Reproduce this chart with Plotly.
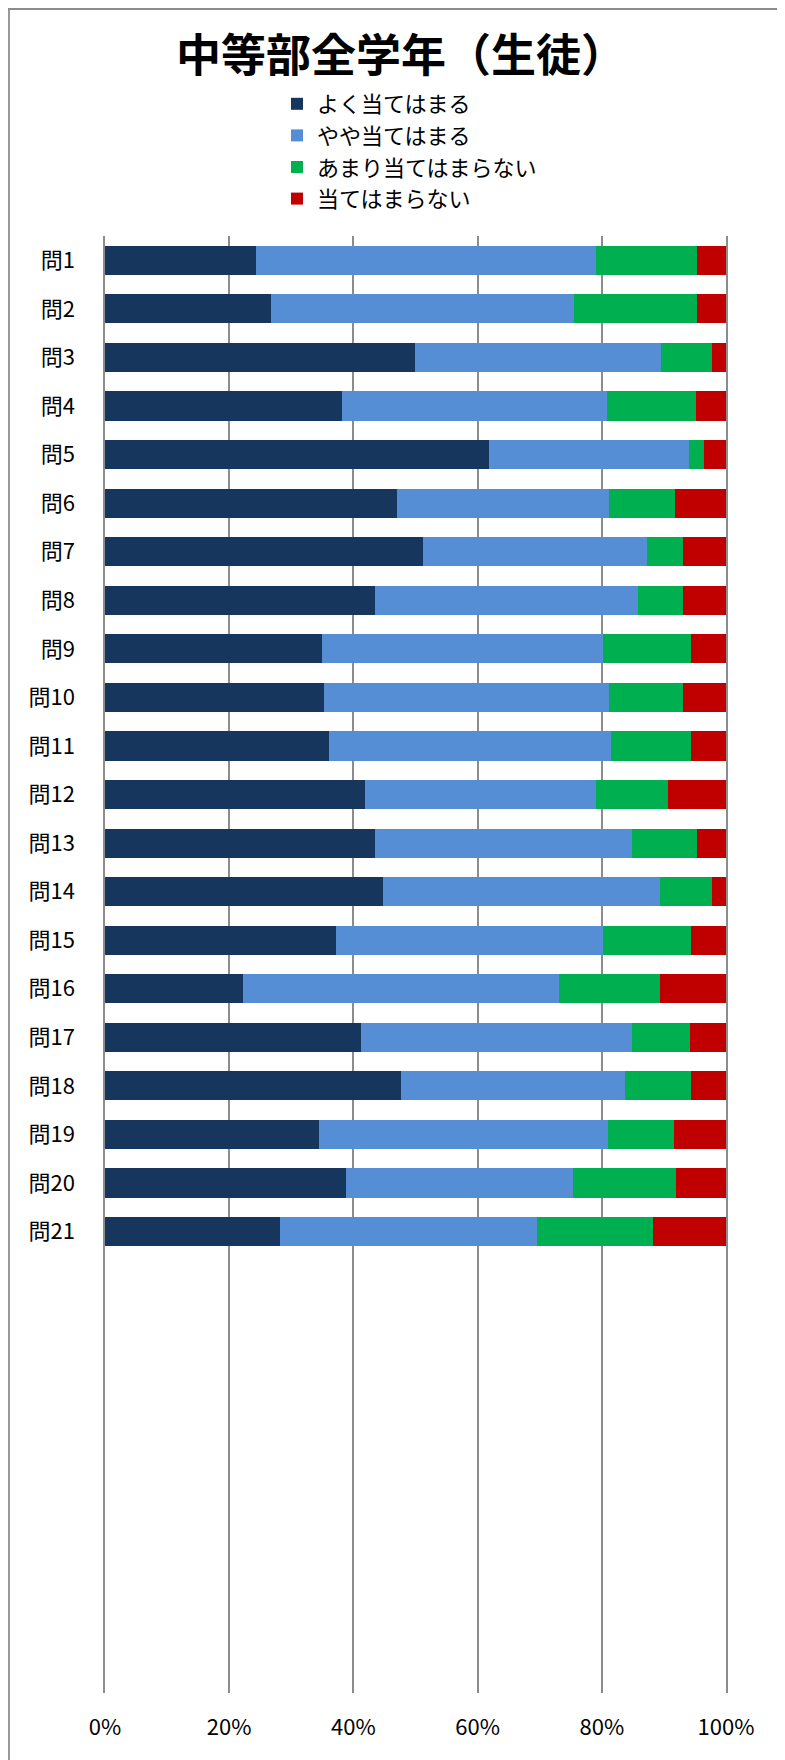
import plotly.graph_objects as go

categories = [f"問{i}" for i in range(1, 22)]
series_names = ["よく当てはまる", "やや当てはまる", "あまり当てはまらない", "当てはまらない"]
very = [24.3, 26.7, 49.9, 38.1, 61.9, 47.0, 51.2, 43.5, 34.9, 35.2, 36.0, 41.9, 43.5, 44.7, 37.2, 22.3, 41.2, 47.7, 34.5, 38.8, 28.1]
somewhat = [54.8, 48.9, 39.7, 42.8, 32.2, 34.2, 36.1, 42.4, 45.3, 46.0, 45.5, 37.2, 41.3, 44.7, 43.0, 50.8, 43.6, 36.0, 46.5, 36.5, 41.4]
not_much = [16.3, 19.8, 8.1, 14.3, 2.4, 10.6, 5.8, 7.1, 14.1, 11.8, 12.8, 11.6, 10.6, 8.3, 14.1, 16.3, 9.4, 10.6, 10.7, 16.6, 18.8]
not_at_all = [4.6, 4.6, 2.3, 4.8, 3.5, 8.2, 6.9, 7.0, 5.7, 7.0, 5.7, 9.3, 4.6, 2.3, 5.7, 10.6, 5.8, 5.7, 8.3, 8.1, 11.7]
x_ticks = [0, 20, 40, 60, 80, 100]
x_tick_labels = ["0%", "20%", "40%", "60%", "80%", "100%"]
colors = ["#17365D", "#558ED5", "#00B050", "#C00000"]

FONT = "Noto Sans CJK JP"
W, H = 777, 1752  # page has an 8px body margin
ML, MR, MT, MB = 97, 59, 228, 67
PW = W - ML - MR
PH = H - MT - MB
GRID = "#8c8c8c"

ypos = list(range(len(categories)))
fig = go.Figure()
for name, vals, col in zip(series_names, [very, somewhat, not_much, not_at_all], colors):
    fig.add_trace(go.Bar(
        y=ypos, x=vals, name=name, orientation="h",
        marker=dict(color=col, line=dict(width=0)),
        width=0.6, legendgroup=name,
    ))


def px_x(px):
    return (px - ML) / PW


def px_y(py):
    return (H - MB - py) / PH


shapes = [
    dict(type="line", xref="paper", yref="paper", x0=px_x(1), x1=px_x(1), y0=px_y(H + 10), y1=px_y(0),
         line=dict(color="#999999", width=2)),
    dict(type="line", xref="paper", yref="paper", x0=px_x(0), x1=px_x(W), y0=px_y(1), y1=px_y(1),
         line=dict(color="#8c8c8c", width=2)),
    dict(type="line", xref="paper", yref="paper", x0=px_x(776), x1=px_x(776), y0=px_y(H + 10), y1=px_y(0),
         line=dict(color="#d9d9d9", width=1)),
]

fig.update_layout(
    width=W, height=H,
    margin=dict(l=ML, r=MR, t=MT, b=MB, pad=0, autoexpand=False),
    paper_bgcolor="white", plot_bgcolor="white",
    barmode="stack",
    font=dict(family=FONT, color="black"),
    title=dict(text="<b>中等部全学年（生徒）</b>", font=dict(size=45, family=FONT, color="black"),
               x=393 / W, xref="container", xanchor="center",
               y=1 - 48 / H, yref="container", yanchor="middle"),
    legend=dict(x=269 / W, xref="container", y=1 - 75 / H, yref="container",
                xanchor="left", yanchor="top", orientation="v",
                traceorder="grouped", tracegroupgap=0,
                font=dict(size=22, family=FONT, color="black"),
                bgcolor="rgba(0,0,0,0)"),
    xaxis=dict(range=[0, 100], tickvals=x_ticks, ticktext=x_tick_labels,
               showgrid=True, gridcolor=GRID, gridwidth=1.5,
               zeroline=False, showline=False, ticks="", ticklabelstandoff=19,
               tickangle=0, automargin=False, layer="below traces",
               tickfont=dict(size=22, family=FONT, color="black"), fixedrange=True),
    yaxis=dict(range=[29.5, -0.5], tickvals=ypos, ticktext=categories,
               showgrid=False, zeroline=False, showline=True, mirror=True,
               linecolor=GRID, linewidth=1.5, layer="below traces",
               ticks="", ticklabelstandoff=24, automargin=False,
               tickfont=dict(size=22, family=FONT, color="black"), fixedrange=True),
    shapes=shapes,
    showlegend=True,
)

fig.write_html("out.html")
